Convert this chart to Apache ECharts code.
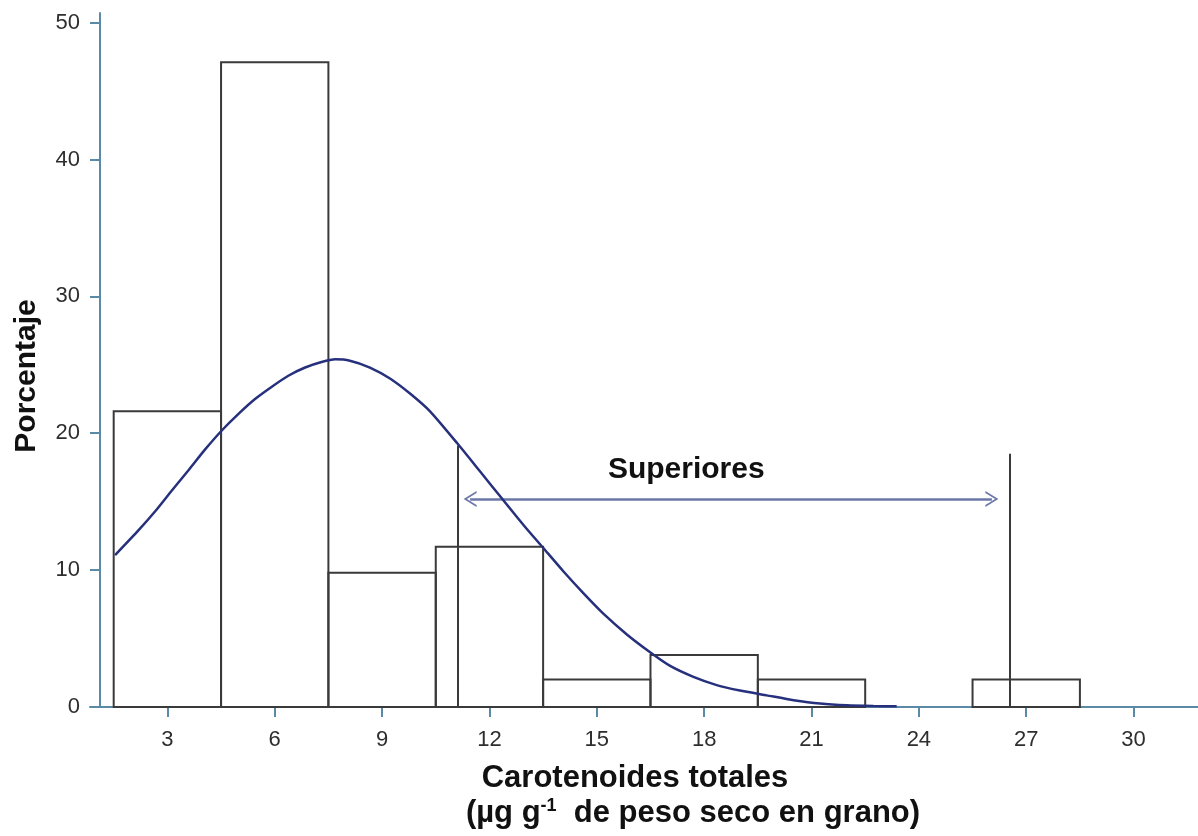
<!DOCTYPE html>
<html><head><meta charset="utf-8">
<script src="https://cdn.jsdelivr.net/npm/echarts@6/dist/echarts.min.js"></script>
<style>html,body{margin:0;padding:0;background:#fff}#c{width:1198px;height:836px}</style>
</head><body><div id="c"></div>
<script>
// Histogram bins (µg g-1) and percentages
const binLeft  = [1.5, 4.5, 7.5, 10.5, 13.5, 16.5, 19.5, 22.5, 25.5];
const binRight = [4.5, 7.5, 10.5, 13.5, 16.5, 19.5, 22.5, 25.5, 28.5];
const percent  = [21.6, 47.1, 9.8, 11.7, 2.0, 3.8, 2.0, 0, 2.0];

// Fitted curve
const curveX = [1.54, 2.19, 2.66, 3.12, 3.59, 4.05, 4.52, 4.98, 5.45, 5.92, 6.38, 6.85, 7.31, 7.69, 8.1, 8.66, 9.22, 9.78, 10.34, 11.09, 11.74, 12.39, 12.95, 13.51, 14.07, 14.63, 15.19, 15.84, 16.49, 17.05, 17.7, 18.35, 19.0, 19.75, 20.5, 21.24, 21.99, 22.73, 23.38];
const curveY = [11.1, 12.9, 14.3, 15.8, 17.3, 18.8, 20.2, 21.4, 22.5, 23.4, 24.2, 24.8, 25.2, 25.4, 25.3, 24.8, 24.0, 22.9, 21.6, 19.3, 17.2, 15.1, 13.3, 11.6, 9.9, 8.3, 6.8, 5.3, 4.0, 3.0, 2.2, 1.6, 1.2, 0.85, 0.5, 0.25, 0.12, 0.07, 0.05];

// Axis ticks
const xTicks = [3, 6, 9, 12, 15, 18, 21, 24, 27, 30];
const yTicks = [0, 10, 20, 30, 40, 50];

// Annotations
const cutoffX   = [11.11, 26.55];
const cutoffTop = [19.1, 18.5];
const arrowX    = [11.46, 26.04];
const arrowY    = 15.2;
const rangeLabel = 'Superiores';
const rangeLabelPos = [17.5, 17.3];

const FONT = '"Liberation Sans", Arial, sans-serif';
const AXIS_COLOR = '#5b8aa6';
const chevron = 'path://M0,12 L7,0 L14,12 L12.2,12 L7,3 L1.8,12 Z';

const chart = echarts.init(document.getElementById('c'), null, {renderer: 'canvas'});

const barData = binLeft.map((l, i) => [l, binRight[i], percent[i]]);
const curveData = curveX.map((x, i) => [x, curveY[i]]);

const option = {
  animation: false,
  backgroundColor: '#ffffff',
  grid: {left: 90, right: 0, top: 13, bottom: 129, containLabel: false},
  xAxis: {
    type: 'value', min: 0.838, max: 31.8,
    name: '{t|Carotenoides totales}\n{p|(µg g}{s|-1}{q|  de peso seco en grano)}',
    nameLocation: 'middle', nameGap: 54,
    nameTextStyle: {
      rich: {
        t: {fontSize: 31, fontWeight: 'bold', color: '#111', fontFamily: FONT, lineHeight: 35, padding: [0, 18, 0, 0]},
        p: {fontSize: 31, fontWeight: 'bold', color: '#111', fontFamily: FONT, lineHeight: 35, padding: [0, 0, 0, 98]},
        s: {fontSize: 18, fontWeight: 'bold', color: '#111', fontFamily: FONT, lineHeight: 35, padding: [0, 0, 15, 0]},
        q: {fontSize: 31, fontWeight: 'bold', color: '#111', fontFamily: FONT, lineHeight: 35}
      }
    },
    axisLine: {show: true, lineStyle: {color: AXIS_COLOR, width: 2}},
    axisTick: {show: true, customValues: xTicks, length: 10, lineStyle: {color: AXIS_COLOR, width: 2}},
    axisLabel: {customValues: xTicks, fontSize: 22, color: '#2e2e2e', fontFamily: FONT, margin: 22},
    splitLine: {show: false}
  },
  yAxis: {
    type: 'value', min: 0, max: 50.7, offset: -10,
    name: 'Porcentaje', nameLocation: 'middle', nameGap: 58, nameRotate: 90,
    nameTextStyle: {fontSize: 30, fontWeight: 'bold', color: '#111', fontFamily: FONT, padding: [0, 32, 0, 0]},
    axisLine: {show: true, lineStyle: {color: AXIS_COLOR, width: 2}},
    axisTick: {show: true, customValues: yTicks, length: 10, lineStyle: {color: AXIS_COLOR, width: 2}},
    axisLabel: {customValues: yTicks, fontSize: 22, color: '#2e2e2e', fontFamily: FONT, margin: 20},
    splitLine: {show: false}
  },
  series: [
    {
      type: 'custom', name: 'Porcentaje',
      data: barData,
      encode: {x: [0, 1], y: 2},
      z: 2,
      renderItem: function (params, api) {
        const v = api.value(2);
        if (!v) return null;
        const p0 = api.coord([api.value(0), 0]);
        const p1 = api.coord([api.value(1), v]);
        return {
          type: 'rect',
          shape: {x: p0[0], y: p1[1], width: p1[0] - p0[0], height: p0[1] - p1[1]},
          style: {fill: 'none', stroke: '#3a3a3a', lineWidth: 2}
        };
      }
    },
    {
      type: 'line', name: 'Curva',
      data: curveData, smooth: 0.2, showSymbol: false, symbol: 'none',
      lineStyle: {color: '#26307c', width: 2.5}, z: 5
    },
    {
      type: 'scatter', name: 'Anotación',
      data: [rangeLabelPos], symbolSize: 0, z: 6, silent: true,
      itemStyle: {opacity: 1},
      label: {show: true, position: 'inside', formatter: rangeLabel, fontSize: 30, fontWeight: 'bold', color: '#111', fontFamily: FONT, opacity: 1},
      markLine: {
        silent: true, animation: false,
        label: {show: false},
        data: [
          [{coord: [cutoffX[0], 0], symbol: 'none', lineStyle: {color: '#3a3a3a', width: 2, type: 'solid'}},
           {coord: [cutoffX[0], cutoffTop[0]], symbol: 'none'}],
          [{coord: [cutoffX[1], 0], symbol: 'none', lineStyle: {color: '#3a3a3a', width: 2, type: 'solid'}},
           {coord: [cutoffX[1], cutoffTop[1]], symbol: 'none'}],
          [{coord: [arrowX[0], arrowY], symbol: chevron, symbolSize: [16, 13], lineStyle: {color: '#6b77a8', width: 2.5, type: 'solid'}},
           {coord: [arrowX[1], arrowY], symbol: chevron, symbolSize: [16, 13]}]
        ]
      }
    }
  ]
};
chart.setOption(option);
</script>
</body></html>
